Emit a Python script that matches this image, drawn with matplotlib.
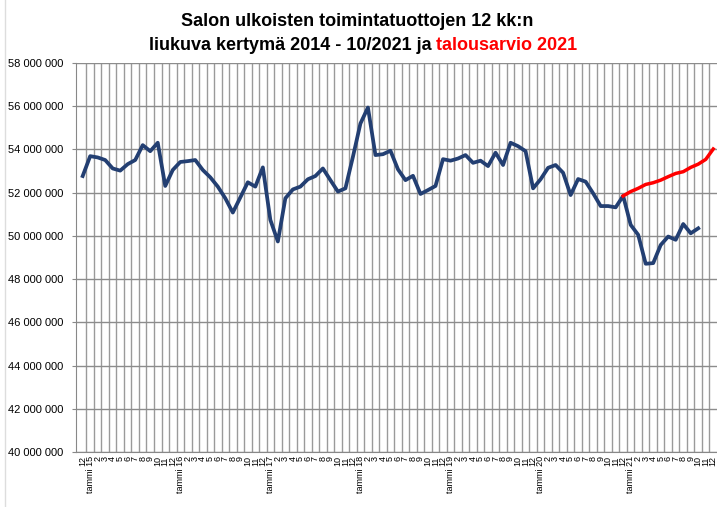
import matplotlib
matplotlib.use("Agg")
import matplotlib.pyplot as plt
from matplotlib.ticker import FuncFormatter, MultipleLocator

# Month labels 12/2014 ... 12/2021
years = [15, 16, 17, 18, 19, 20, 21]
month_labels = ["12"]
for y in years:
    month_labels.append(f"tammi {y}")
    month_labels += [str(m) for m in range(2, 13)]

# 12 kk liukuva kertymä, milj. euroa (12/2014 - 10/2021)
actual = [
    52.77, 53.69, 53.63, 53.51, 53.12, 53.02, 53.32, 53.51, 54.20, 53.92, 54.31, 52.31,
    53.05, 53.42, 53.46, 53.51, 53.05, 52.71, 52.28, 51.74, 51.08, 51.78, 52.48, 52.28,
    53.17, 50.74, 49.74, 51.74, 52.15, 52.28, 52.62, 52.77, 53.12, 52.58, 52.05, 52.20,
    53.66, 55.20, 55.94, 53.74, 53.78, 53.94, 53.08, 52.58, 52.78, 51.94, 52.12, 52.31,
    53.55, 53.48, 53.58, 53.74, 53.38, 53.48, 53.23, 53.85, 53.28, 54.31, 54.15, 53.92,
    52.20, 52.62, 53.15, 53.28, 52.92, 51.89, 52.63, 52.51, 51.97, 51.38, 51.38, 51.32,
    51.85, 50.51, 50.05, 48.71, 48.74, 49.58, 49.97, 49.82, 50.55, 50.12, 50.35,
]
# talousarvio 2021 (12/2020 - 12/2021)
budget = [51.85, 52.05, 52.20, 52.38, 52.46, 52.58, 52.74, 52.89, 52.97, 53.17, 53.32, 53.54, 54.02]
budget_start = 72

plt.rcParams['font.family'] = ['Liberation Sans', 'DejaVu Sans']

fig = plt.figure(figsize=(7.17, 5.07), dpi=100)
ax = fig.add_axes([76 / 717, 1 - 452 / 507, 1 - 76 / 717, (452 - 63) / 507])

x_act = list(range(len(actual)))
x_bud = list(range(budget_start, budget_start + len(budget)))
ax.plot(x_act, [v * 1e6 for v in actual], color="#233f72", lw=2.7, solid_joinstyle="round", zorder=3)
ax.plot(x_bud, [v * 1e6 for v in budget], color="#ff0000", lw=2.5, solid_joinstyle="round", zorder=4)

ax.set_ylim(40e6, 58e6)
ax.set_xlim(-0.89, 84.5)
ax.yaxis.set_major_locator(MultipleLocator(2e6))
ax.yaxis.set_major_formatter(FuncFormatter(lambda v, p: f"{int(v):,}".replace(",", " ")))
ax.tick_params(axis="y", labelsize=8, length=3, pad=6, color="#888888")

ax.set_xticks(range(len(month_labels)))
ax.set_xticklabels(month_labels, rotation=90, fontsize=6.5, va="top")
ax.tick_params(axis="x", length=0, pad=3)

ax.set_xticks([k + 0.5 for k in range(84)], minor=True)
ax.tick_params(axis="x", which="minor", length=0)
ax.grid(True, axis="y", which="major", color="#8c8c8c", lw=1)
ax.grid(True, axis="x", which="minor", color="#9a9a9a", lw=1)
ax.grid(False, axis="x", which="major")

for s in ["top", "right"]:
    ax.spines[s].set_visible(False)
ax.spines["left"].set_color("#888888")
ax.spines["bottom"].set_color("#888888")

# title, second line in two colours
fig.text(357 / 717, 1 - 22 / 507, "Salon ulkoisten toimintatuottojen 12 kk:n",
         ha="center", va="center", fontsize=13, fontweight="bold")
t1 = fig.text(0, 1 - 46 / 507, "liukuva kertymä 2014 - 10/2021 ja ",
              ha="left", va="center", fontsize=13, fontweight="bold")
t2 = fig.text(0, 1 - 46 / 507, "talousarvio 2021",
              ha="left", va="center", fontsize=13, fontweight="bold", color="#ff0000")
fig.canvas.draw()
r = fig.canvas.get_renderer()
w1 = t1.get_window_extent(r).width
w2 = t2.get_window_extent(r).width
x0 = 363 - (w1 + w2) / 2
t1.set_x(x0 / 717)
t2.set_x((x0 + w1) / 717)

fig.add_artist(plt.Line2D([5 / 717, 5 / 717], [0, 1], color="#dddddd", lw=1))

fig.savefig("out.png", dpi=100)
